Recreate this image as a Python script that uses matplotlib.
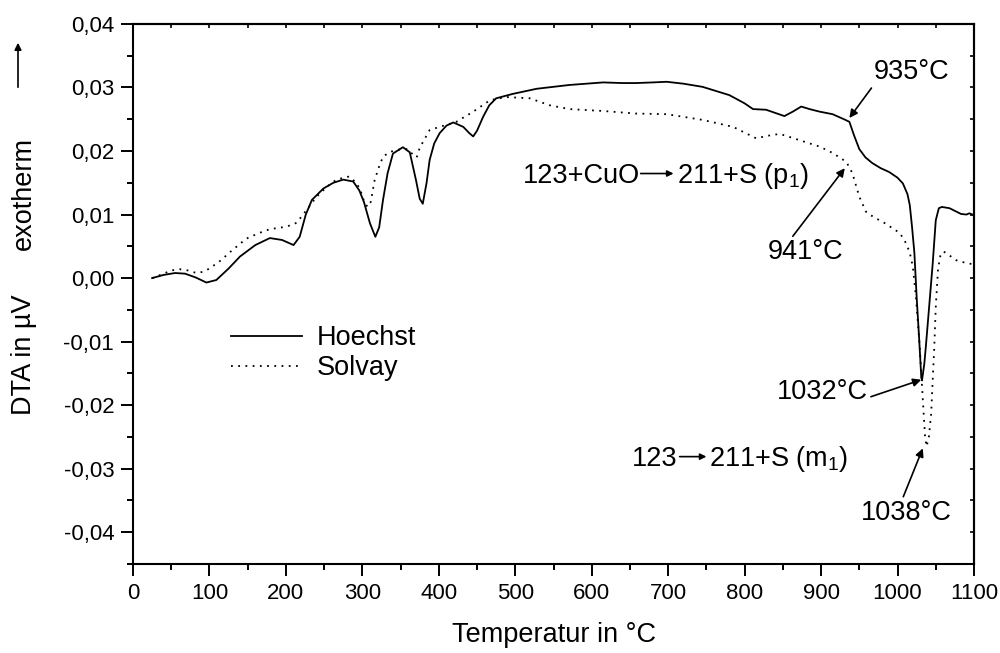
import matplotlib
matplotlib.use("Agg")
import matplotlib.pyplot as plt
from matplotlib.ticker import MultipleLocator, FuncFormatter

plt.rcParams['font.family'] = ['Liberation Sans', 'DejaVu Sans']
plt.rcParams['mathtext.fontset'] = 'custom'
plt.rcParams['mathtext.rm'] = 'Liberation Sans'
plt.rcParams['mathtext.it'] = 'Liberation Sans:italic'
plt.rcParams['mathtext.default'] = 'regular'

# ---- data ----
hoechst_T = [25, 40, 55, 68, 82, 96, 109, 125, 140, 160, 179, 195, 210, 218, 226, 234,
             249, 262, 275, 288, 296, 302, 310, 317, 322, 327, 333, 340, 353, 362, 370,
             375, 379, 384, 388, 394, 401, 410, 419, 432, 440, 445, 450, 458, 466, 475,
             497, 528, 571, 615, 640, 658, 680, 698, 720, 745, 780, 800, 811, 828, 852,
             863, 874, 885, 898, 915, 930, 937, 943, 950, 958, 967, 978, 989, 1000, 1007,
             1013, 1016, 1019, 1022, 1025, 1028, 1031, 1032, 1035, 1037, 1041, 1046, 1050,
             1054, 1058, 1068, 1083, 1090, 1094, 1100]
hoechst_dta = [0.0000, 0.0005, 0.0008, 0.0007, 0.0001, -0.0007, -0.0003, 0.0015, 0.0034,
               0.0052, 0.0063, 0.0060, 0.0052, 0.0065, 0.0100, 0.0123, 0.0141, 0.0150,
               0.0155, 0.0152, 0.0138, 0.0120, 0.0086, 0.0065, 0.0080, 0.0123, 0.0165,
               0.0196, 0.0206, 0.0198, 0.0155, 0.0125, 0.0117, 0.0150, 0.0186, 0.0212,
               0.0228, 0.0240, 0.0245, 0.0238, 0.0228, 0.0223, 0.0232, 0.0254, 0.0272,
               0.0283, 0.0290, 0.0298, 0.0304, 0.0308, 0.0307, 0.0307, 0.0308, 0.0309,
               0.0306, 0.0301, 0.0288, 0.0275, 0.0266, 0.0265, 0.0255, 0.0262, 0.0270,
               0.0266, 0.0262, 0.0258, 0.0250, 0.0246, 0.0225, 0.0203, 0.0190, 0.0181,
               0.0173, 0.0167, 0.0158, 0.0149, 0.0132, 0.0115, 0.0080, 0.0040, -0.0030,
               -0.0090, -0.0155, -0.0161, -0.0135, -0.0108, -0.0050, 0.0023, 0.0091,
               0.0110, 0.0112, 0.0110, 0.0101, 0.0100, 0.0102, 0.0099]

solvay_T = [25, 38, 50, 61, 72, 83, 92, 100, 115, 127, 148, 165, 179, 201, 214, 227, 240,
            253, 266, 283, 292, 297, 303, 307, 311, 316, 322, 327, 335, 345, 358, 366,
            371, 375, 388, 401, 423, 445, 467, 488, 519, 545, 571, 615, 658, 698, 745,
            785, 815, 830, 846, 872, 898, 915, 933, 941, 950, 959, 970, 980, 1003, 1011,
            1016, 1020, 1024, 1029, 1033, 1036, 1038, 1041, 1044, 1046, 1048, 1050, 1053,
            1056, 1060, 1065, 1077, 1092, 1100]
solvay_dta = [0.0000, 0.0006, 0.0012, 0.0014, 0.0012, 0.0008, 0.0010, 0.0015, 0.0028,
              0.0041, 0.0062, 0.0071, 0.0077, 0.0081, 0.0087, 0.0107, 0.0128, 0.0143,
              0.0155, 0.0160, 0.0150, 0.0140, 0.0118, 0.0112, 0.0120, 0.0154, 0.0176,
              0.0191, 0.0198, 0.0202, 0.0203, 0.0195, 0.0190, 0.0205, 0.0233, 0.0238,
              0.0246, 0.0262, 0.0280, 0.0285, 0.0283, 0.0272, 0.0266, 0.0263, 0.0259,
              0.0258, 0.0249, 0.0238, 0.0220, 0.0224, 0.0227, 0.0217, 0.0207, 0.0197,
              0.0183, 0.0165, 0.0128, 0.0104, 0.0095, 0.0089, 0.0071, 0.0055, 0.0040,
              0.0018, -0.0029, -0.0108, -0.0190, -0.0250, -0.0265, -0.0250, -0.0213,
              -0.0160, -0.0110, -0.0045, 0.0015, 0.0035, 0.0042, 0.0038, 0.0028, 0.0023,
              0.0022]

series_labels = ["Hoechst", "Solvay"]

BIG = 19.5
SMALL = 16

fig = plt.figure(figsize=(10.0, 6.53), dpi=100)
ax = fig.add_axes([0.133, 0.1363, 0.841, 0.8270])

ax.plot(hoechst_T, hoechst_dta, color='black', lw=1.3, ls='-', label=series_labels[0])
ax.plot(solvay_T, solvay_dta, color='black', lw=1.3, ls=(0, (1, 3)), label=series_labels[1])

ax.set_xlim(0, 1100)
ax.set_ylim(-0.045, 0.04)

ax.xaxis.set_major_locator(MultipleLocator(100))
ax.xaxis.set_minor_locator(MultipleLocator(50))
ax.yaxis.set_major_locator(MultipleLocator(0.01))
ax.yaxis.set_minor_locator(MultipleLocator(0.005))
ax.yaxis.set_major_formatter(FuncFormatter(lambda v, p: f"{v:.2f}".replace('.', ',').replace('-0,00', '0,00')))
ax.xaxis.set_major_formatter(FuncFormatter(lambda v, p: f"{v:.0f}"))

ax.tick_params(which='major', direction='out', length=8.5, width=1.4, labelsize=SMALL, pad=5)
ax.tick_params(which='minor', direction='out', length=4.5, width=1.4)
for s in ax.spines.values():
    s.set_linewidth(1.5)

# inner ticks on top / right
sec_x = ax.secondary_xaxis('top')
sec_x.xaxis.set_major_locator(MultipleLocator(50))
sec_x.tick_params(direction='in', length=3, width=1.2, labeltop=False)
sec_x.spines['top'].set_linewidth(1.5)
sec_y = ax.secondary_yaxis('right')
sec_y.yaxis.set_major_locator(MultipleLocator(0.005))
sec_y.tick_params(direction='in', length=3, width=1.2, labelright=False)
sec_y.spines['right'].set_linewidth(1.5)

ax.set_xlabel("Temperatur in °C", fontsize=BIG, labelpad=13)

# y label pieces
fig.text(0.024, 1 - 355 / 653, "DTA in µV", rotation=90, ha='center', va='center', fontsize=BIG)
fig.text(0.024, 1 - 193 / 653, "exotherm", rotation=90, ha='center', va='center', fontsize=BIG)
fig.add_artist(matplotlib.patches.FancyArrowPatch((0.018, 1 - 90 / 653), (0.018, 1 - 40 / 653),
               transform=fig.transFigure, arrowstyle='-|>', mutation_scale=10, lw=1.2, color='black'))

# legend
ax.legend(loc='center left', bbox_to_anchor=(0.117, 0.39), frameon=False, fontsize=BIG,
          handlelength=2.6, handletextpad=0.55, labelspacing=0.15, borderpad=0, borderaxespad=0)

arrow_kw = dict(arrowstyle='-|>', lw=1.2, color='black', mutation_scale=12, shrinkA=0, shrinkB=0)

ax.annotate("935°C", xy=(937, 0.0252), xytext=(1018, 0.0324), fontsize=BIG,
            ha='center', va='center', arrowprops=dict(arrow_kw, relpos=(0.0, 0.0)))
ax.annotate("941°C", xy=(931, 0.0173), xytext=(880, 0.0041), fontsize=BIG,
            ha='center', va='center', arrowprops=dict(arrow_kw, relpos=(0.3, 1.0)))
ax.annotate("1032°C", xy=(1031, -0.0160), xytext=(902, -0.0180), fontsize=BIG,
            ha='center', va='center', arrowprops=dict(arrow_kw, relpos=(1.0, 0.3)))
ax.annotate("1038°C", xy=(1033, -0.0268), xytext=(1012, -0.0369), fontsize=BIG,
            ha='center', va='center', arrowprops=dict(arrow_kw, relpos=(0.45, 1.0)))

# reaction labels
ax.text(663, 0.0150, "123+CuO", fontsize=BIG, ha='right', va='baseline')
ax.annotate("", xy=(707, 0.01646), xytext=(664, 0.01646),
            arrowprops=dict(arrowstyle='-|>', lw=1.2, color='black', mutation_scale=9, shrinkA=0, shrinkB=0))
ax.text(711, 0.0150, "211+S (p$_1$)", fontsize=BIG, ha='left', va='baseline')

ax.text(712, -0.0296, "123", fontsize=BIG, ha='right', va='baseline')
ax.annotate("", xy=(750, -0.0281), xytext=(715, -0.0281),
            arrowprops=dict(arrowstyle='-|>', lw=1.2, color='black', mutation_scale=9, shrinkA=0, shrinkB=0))
ax.text(754, -0.0296, "211+S (m$_1$)", fontsize=BIG, ha='left', va='baseline')

fig.savefig("out.png", dpi=100)
